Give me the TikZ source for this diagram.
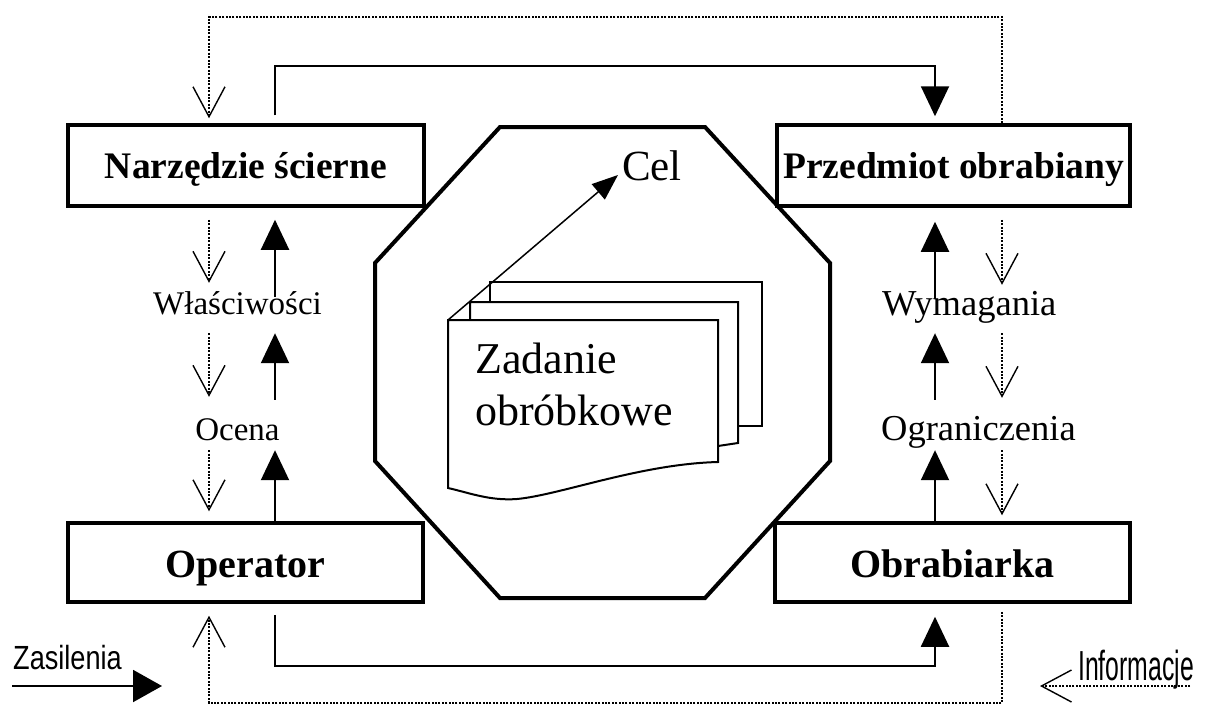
\documentclass[tikz,border=0pt]{standalone}
\usepackage{fontspec}
\setmainfont{Liberation Serif}
\newfontfamily\arialfont{Liberation Sans}
\usetikzlibrary{arrows.meta,calc}
\begin{document}
\begin{tikzpicture}[x=1pt,y=-1pt,
  boxnode/.style={draw, line width=3.5pt, inner sep=0pt, text height=25pt, text depth=0pt, font=\bfseries\fontsize{37.5}{40}\selectfont},
  boxbig/.style={boxnode, text height=29pt, text depth=0pt, font=\bfseries\fontsize{40}{44}\selectfont},
  lbl/.style={inner sep=0pt, text height=23pt, text depth=7pt},
  lblL/.style={lbl, font=\fontsize{33}{36}\selectfont, anchor=base},
  lblR/.style={lbl, font=\fontsize{36.5}{40}\selectfont, anchor=base west},
  flow/.style={line width=2pt, -{Triangle[length=30pt,width=28pt]}},
  info/.style={line width=2.3pt, dash pattern=on 2pt off 1.4pt, -{Straight Barb[length=30pt,width=32pt,line width=1.4pt]}},
  page/.style={line width=2pt, fill=white, line join=miter},
  sans/.style={inner sep=0pt, anchor=base west}
]
\useasboundingbox (0,0) rectangle (1207,715);

% column coordinates
\coordinate (cD) at (209,0);
\coordinate (cL) at (275,0);
\coordinate (cR) at (935,0);
\coordinate (cD2) at (1002,0);
\coordinate (yTop) at (0,66);
\coordinate (yLoopT) at (0,17);
\coordinate (yBot) at (0,666);
\coordinate (yLoopB) at (0,703);

% octagon
\draw[line width=4pt, line join=miter] (500,127) -- (705,127) -- (830,263) -- (830,461) -- (705,598) -- (500,598) -- (375,461) -- (375,263) -- cycle;

% pages
\draw[page] (490,282) -- (762,282) -- (762,426) -- (490,426) -- cycle;
\draw[page] (470,302) -- (738,302) -- (738,443) -- (718,446) -- (470,462) -- cycle;
\draw[page] (448,320) -- (718,320) -- (718,462) .. controls (640,464) and (560,495) .. (517,499) .. controls (490,501) and (470,493) .. (448,488) -- cycle;
\coordinate (pg) at (448,320);
\coordinate (celtip) at (618,175);
\draw[line width=1.5pt, -{Triangle[length=26pt,width=20pt]}] (pg) -- (celtip);
\node[inner sep=0pt, anchor=base west, font=\fontsize{43}{46}\selectfont] (cel) at (622,180) {Cel};
\node[inner sep=0pt, anchor=north west, align=left, font=\fontsize{44}{52}\selectfont] (zad) at (475,343) {Zadanie\\obróbkowe};

% boxes
\node[boxnode, minimum width=356pt, minimum height=81pt] (nar) at (246,165.5) {Narzędzie ścierne};
\node[boxnode, minimum width=353pt, minimum height=81pt] (prz) at (953.5,165.5) {Przedmiot obrabiany};
\node[boxbig, minimum width=355pt, minimum height=79pt] (op) at (245.5,562.5) {Operator};
\node[boxbig, minimum width=355pt, minimum height=79pt] (obr) at (952.5,562.5) {Obrabiarka};

% labels
\node[lblL] (wl) at (237.5,314) {Właściwości};
\node[lblL] (oc) at (237.5,440) {Ocena};
\node[lblR] (wy) at (882,315) {Wymagania};
\node[lblR] (og) at (881,440) {Ograniczenia};

% left solid arrows
\draw[flow, shorten >=3pt] (op.north -| cL) -- (oc.south -| cL);
\draw[flow, shorten <=17pt, shorten >=12pt] (oc.north -| cL) -- (wl.south -| cL);
\draw[flow, shorten <=-6pt, shorten >=12pt] (wl.north -| cL) -- (nar.south -| cL);
% right solid arrows
\draw[flow, shorten >=3pt] (obr.north -| cR) -- (og.south -| cR);
\draw[flow, shorten <=17pt, shorten >=11pt] (og.north -| cR) -- (wy.south -| cR);
\draw[flow, shorten <=-7pt, shorten >=14pt] (wy.north -| cR) -- (prz.south -| cR);

% left dotted
\draw[info, shorten <=12pt, shorten >=8pt] (nar.south -| cD) -- (wl.north -| cD);
\draw[info, shorten <=12pt, shorten >=20pt] (wl.south -| cD) -- (oc.north -| cD);
\draw[info, shorten <=3pt, shorten >=10pt] (oc.south -| cD) -- (op.north -| cD);
% right dotted
\draw[info, shorten <=12pt, shorten >=7pt] (prz.south -| cD2) -- (wy.north -| cD2);
\draw[info, shorten <=11pt, shorten >=19pt] (wy.south -| cD2) -- (og.north -| cD2);
\draw[info, shorten <=3pt, shorten >=6pt] (og.south -| cD2) -- (obr.north -| cD2);

% top and bottom solid connectors
\draw[flow, shorten <=8pt, shorten >=7pt] (nar.north -| cL) -- (cL |- yTop) -- (cR |- yTop) -- (prz.north -| cR);
\draw[flow, shorten <=11pt, shorten >=13pt] (op.south -| cL) -- (cL |- yBot) -- (cR |- yBot) -- (obr.south -| cR);

% dotted loops
\draw[info, shorten >=5pt] (prz.north -| cD2) -- (cD2 |- yLoopT) -- (cD |- yLoopT) -- (nar.north -| cD);
\draw[info, shorten <=8pt, shorten >=12pt] (obr.south -| cD2) -- (cD2 |- yLoopB) -- (cD |- yLoopB) -- (op.south -| cD);

% inputs
\coordinate (zs) at (12,686);
\coordinate (ze) at (162,686);
\draw[flow, -{Triangle[length=29pt,width=32pt]}] (zs) -- (ze);
\node[sans, font=\arialfont\fontsize{33.5}{36}\selectfont] (zas) at (13,669) {\scalebox{0.81}[1]{Zasilenia}};
\coordinate (is) at (1190,686);
\coordinate (ie) at (1040,686);
\draw[info] (is) -- (ie);
\node[sans, font=\arialfont\fontsize{42}{44}\selectfont] (inf) at (1078,680) {\scalebox{0.59}[1]{Informacje}};
\end{tikzpicture}
\end{document}
